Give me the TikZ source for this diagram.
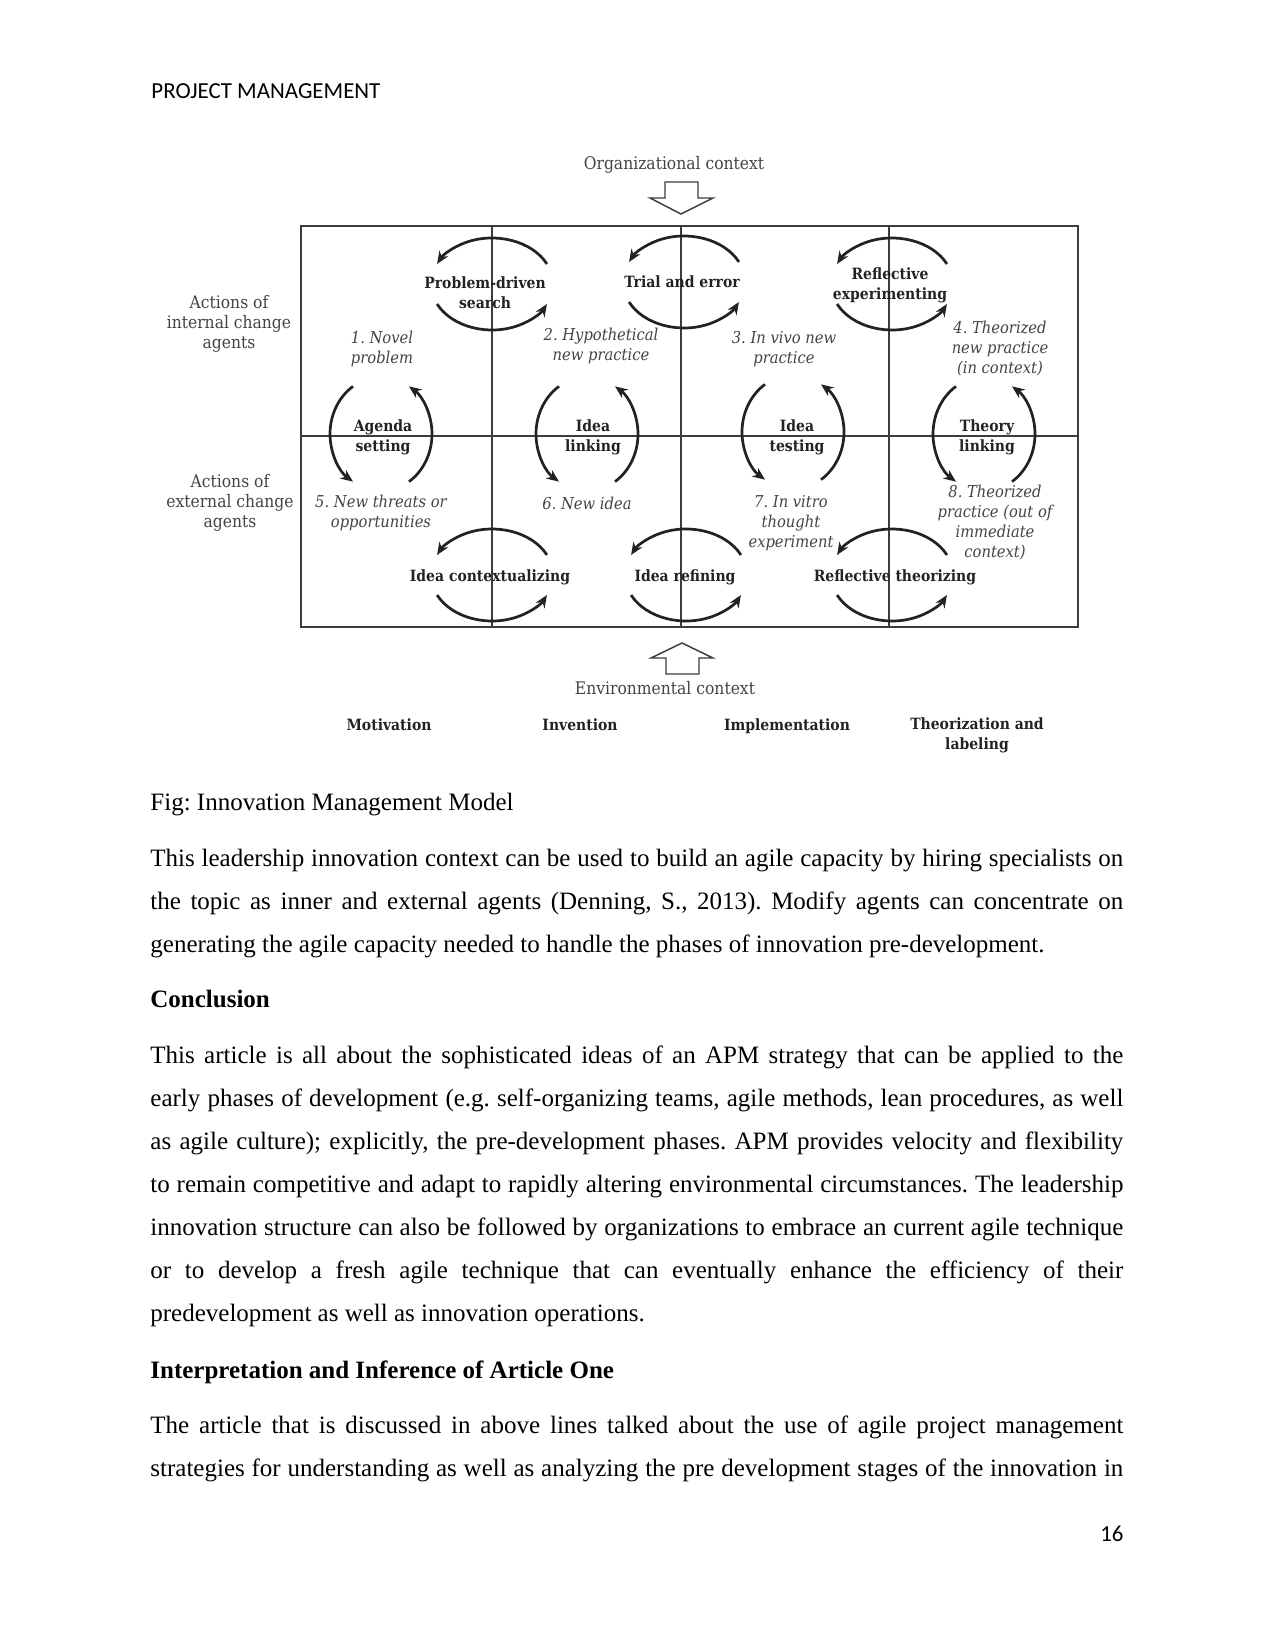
\documentclass[tikz,border=0pt]{standalone}
\usepackage{fontspec}
\setmainfont{Liberation Serif}
\newfontfamily\hdrfont{Carlito}
\newfontfamily\diafont[FakeStretch=0.9]{DejaVu Serif}
\usetikzlibrary{arrows.meta}
\frenchspacing

\definecolor{inkdark}{RGB}{34,34,34}
\definecolor{inkgray}{RGB}{68,68,68}
\definecolor{linegray}{RGB}{60,60,60}

% cycle arrows round a named centre
\newcommand{\hcycle}[1]{%
  \draw[cycarrow] ([shift={(25.8:61 and 46)}]#1) arc[start angle=25.8,end angle=154.2,x radius=61,y radius=46];
  \draw[cycarrow] ([shift={(205.8:61 and 46)}]#1) arc[start angle=205.8,end angle=334.2,x radius=61,y radius=46];}
\newcommand{\vcycle}[1]{%
  \draw[cycarrow] ([shift={(123.3:51 and 57)}]#1) arc[start angle=123.3,end angle=236.7,x radius=51,y radius=57];
  \draw[cycarrow] ([shift={(-56.7:51 and 57)}]#1) arc[start angle=-56.7,end angle=56.7,x radius=51,y radius=57];}

\begin{document}
\begin{tikzpicture}[x=0.48pt,y=0.48pt,
  txtbase/.style={inner sep=0pt},
  hdrtxt/.style={txtbase,font=\hdrfont\fontsize{11}{13}\selectfont},
  bodytxt/.style={txtbase,font=\fontsize{12}{20.7}\selectfont},
  paratxt/.style={bodytxt,text width=467pt,align=justify,anchor=north west},
  actlbl/.style={txtbase,align=center,text=inkdark,font=\diafont\bfseries\fontsize{7.45}{9.6}\selectfont},
  phaselbl/.style={txtbase,align=center,text=inkgray,font=\diafont\itshape\fontsize{7.85}{9.6}\selectfont},
  sidelbl/.style={txtbase,align=center,text=inkgray,font=\diafont\fontsize{8.3}{9.6}\selectfont},
  cycarrow/.style={draw=inkdark,line width=1.3pt,-{Stealth[length=6pt,width=5pt]}},
  gridline/.style={draw=linegray,line width=0.6pt},
  ctxarrow/.style={draw=linegray,fill=white,line width=0.7pt}]
\fill[white] (0,0) rectangle (1275,-1651);
\useasboundingbox (0,0) rectangle (1275,-1651);

\node[hdrtxt,anchor=base west] (header) at (151,-99) {PROJECT MANAGEMENT};

% grid
\draw[gridline,line width=0.8pt] (301,-226) rectangle (1078,-627);
\foreach \gx in {492,681,889}
  \draw[gridline] (\gx,-226) -- (\gx,-627);
\draw[gridline] (301,-436) -- (1078,-436);

% context arrows
\node[sidelbl] (orgctx) at (674,-165) {Organizational context};
\draw[ctxarrow] (665,-182) -- (698,-182) -- (698,-198) -- (713,-198) -- (681,-214)
  -- (650,-198) -- (665,-198) -- cycle;
\draw[ctxarrow] (666,-674) -- (699,-674) -- (699,-658) -- (713,-658) -- (682,-643)
  -- (651,-658) -- (666,-658) -- cycle;
\node[sidelbl] (envctx) at (665,-688) {Environmental context};

% row and column labels
\node[sidelbl] (intagents) at (229,-324) {Actions of\\internal change\\agents};
\node[sidelbl] (extagents) at (230,-503) {Actions of\\external change\\agents};
\node[actlbl,anchor=base] (motiv) at (389,-730) {Motivation};
\node[actlbl,anchor=base] (invent) at (580,-730) {Invention};
\node[actlbl,anchor=base] (implem) at (787,-730) {Implementation};
\node[actlbl] (theorlab) at (977,-735.5) {Theorization and\\labeling};

% cycle centres
\coordinate (pds) at (492,-284);
\coordinate (tae) at (684,-282);
\coordinate (rex) at (892,-284);
\coordinate (ags) at (381,-434);
\coordinate (ili) at (587,-434);
\coordinate (ite) at (793,-432);
\coordinate (thl) at (984,-434);
\coordinate (ico) at (492,-575);
\coordinate (ire) at (686,-575);
\coordinate (rth) at (892,-575);
\foreach \cc in {pds,tae,rex,ico,ire,rth} {\hcycle{\cc}}
\foreach \cc in {ags,ili,ite,thl} {\vcycle{\cc}}

\node[actlbl] (pdslbl) at (485,-293) {Problem-driven\\search};
\node[actlbl] (taelbl) at (682,-282) {Trial and error};
\node[actlbl] (rexlbl) at (890,-285.5) {Reflective\\experimenting};
\node[actlbl] (agslbl) at (383,-437) {Agenda\\setting};
\node[actlbl] (ililbl) at (593,-437) {Idea\\linking};
\node[actlbl] (itelbl) at (797,-437) {Idea\\testing};
\node[actlbl] (thllbl) at (987,-437) {Theory\\linking};
\node[actlbl] (icolbl) at (490,-577) {Idea contextualizing};
\node[actlbl] (irelbl) at (685,-577) {Idea refining};
\node[actlbl] (rthlbl) at (895,-577) {Reflective theorizing};

% phases
\node[phaselbl] (ph1) at (382,-349) {1. Novel\\problem};
\node[phaselbl] (ph2) at (601,-346) {2. Hypothetical\\new practice};
\node[phaselbl] (ph3) at (784,-349) {3. In vivo new\\practice};
\node[phaselbl] (ph4) at (1000,-349) {4. Theorized\\new practice\\(in context)};
\node[phaselbl] (ph5) at (381,-513) {5. New threats or\\opportunities};
\node[phaselbl] (ph6) at (587,-503) {6. New idea};
\node[phaselbl] (ph7) at (791,-523) {7. In vitro\\thought\\experiment};
\node[phaselbl] (ph8) at (995,-523) {8. Theorized\\practice (out of\\immediate\\context)};

% text of the page
\node[bodytxt,anchor=base west] (caption) at (150,-810) {Fig: Innovation Management Model};
\node[paratxt] (para1) at (150,-845.2) {\rule{0pt}{10pt}This leadership innovation context can be used to build an agile capacity by hiring specialists on\linebreak
the topic as inner and external agents (Denning, S., 2013). Modify agents can concentrate on\linebreak
generating the agile capacity needed to handle the phases of innovation pre-development.};
\node[bodytxt,font=\bfseries\fontsize{12}{20.7}\selectfont,anchor=base west] (concl) at (150,-1007.7) {Conclusion};
\node[paratxt] (para2) at (150,-1041.9) {\rule{0pt}{10pt}This article is all about the sophisticated ideas of an APM strategy that can be applied to the\linebreak
early phases of development (e.g. self-organizing teams, agile methods, lean procedures, as well\linebreak
as agile culture); explicitly, the pre-development phases. APM provides velocity and flexibility\linebreak
to remain competitive and adapt to rapidly altering environmental circumstances. The leadership\linebreak
innovation structure can also be followed by organizations to embrace an current agile technique\linebreak
or to develop a fresh agile technique that can eventually enhance the efficiency of their\linebreak
predevelopment as well as innovation operations.};
\node[bodytxt,font=\bfseries\fontsize{12}{20.7}\selectfont,anchor=base west] (interp) at (150,-1378) {Interpretation and Inference of Article One};
\node[paratxt] (para3) at (150,-1411.9) {{\parfillskip=0pt\rule{0pt}{10pt}The article that is discussed in above lines talked about the use of agile project management\linebreak
strategies for understanding as well as analyzing the pre development stages of the innovation in\par}};

\node[hdrtxt,anchor=base east] (pagenum) at (1124,-1541) {16};
\end{tikzpicture}
\end{document}
